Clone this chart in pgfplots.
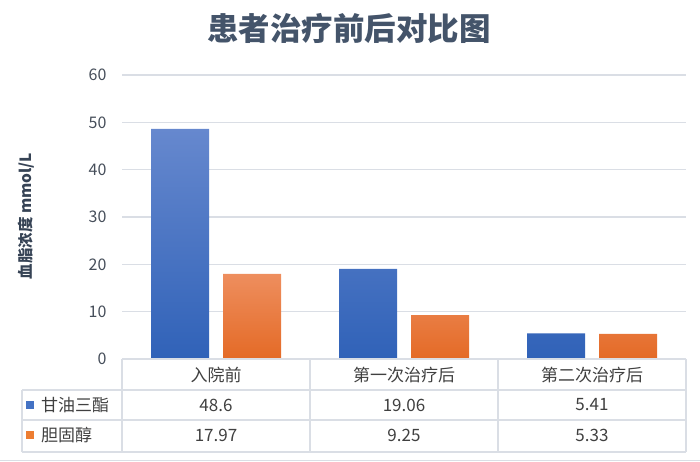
\documentclass[border=0pt]{standalone}
\usepackage{fontspec}
\setmainfont{Noto Sans CJK SC}
\usepackage{pgfplots}
\pgfplotsset{compat=1.18}

\definecolor{blueTop}{RGB}{102,136,206}
\definecolor{blueBot}{RGB}{48,98,184}
\definecolor{orangeTop}{RGB}{238,142,94}
\definecolor{orangeBot}{RGB}{228,106,38}
\definecolor{blueKey}{RGB}{68,114,196}
\definecolor{orangeKey}{RGB}{237,125,49}
\definecolor{gridc}{RGB}{218,222,229}
\definecolor{titlec}{RGB}{68,84,106}
\definecolor{tickc}{RGB}{70,78,90}
\definecolor{textc}{RGB}{64,64,64}

\begin{document}
\begin{tikzpicture}[x=1pt,y=1pt]
\begin{axis}[
    at={(122pt,103pt)}, anchor=south west,
    scale only axis,
    width=564pt, height=284pt,
    xmin=-0.5, xmax=2.5,
    ymin=0, ymax=60,
    ytick={0,10,...,60},
    xtick=\empty,
    axis line style={draw=none},
    ymajorgrids,
    grid style={draw=gridc, line width=1.3pt},
    major tick length=0pt,
    yticklabel style={font=\fontsize{16}{16}\selectfont, text=tickc, xshift=-12pt},
    /pgf/number format/assume math mode=true,
    ybar=14pt, bar width=58pt,
    clip=false
]
% 甘油三酯
\addplot[ybar, draw=none, top color=blueTop, bottom color=blueBot]
    coordinates {(0,48.6) (1,19.06) (2,5.41)};
% 胆固醇
\addplot[ybar, draw=none, top color=orangeTop, bottom color=orangeBot]
    coordinates {(0,17.97) (1,9.25) (2,5.33)};
\end{axis}

% title and y label
\node[font=\fontsize{31.5}{32}\selectfont\bfseries, text=titlec] at (349,434) {患者治疗前后对比图};
\node[rotate=90, font=\fontsize{15.5}{16}\selectfont\bfseries, text=titlec!80!black] at (26,246) {血脂浓度 mmol/L};

% data table
\begin{scope}[draw=gridc, line width=1.3pt]
  \draw (122,103) -- (686,103);
  \draw (22,72) -- (686,72);
  \draw (22,42) -- (686,42);
  \draw (22,10) -- (686,10);
  \draw (22,72) -- (22,10);
  \foreach \x in {122,310,498,686} \draw (\x,103) -- (\x,10);
\end{scope}
\draw[gridc, line width=1pt] (0,1.5) -- (700,1.5);

\begin{scope}[font=\fontsize{17}{17}\selectfont, text=textc]
  \node at (216,87) {入院前};
  \node at (404,87) {第一次治疗后};
  \node at (592,87) {第二次治疗后};
  \fill[blueKey] (26,53) rectangle (34,61);
  \node[anchor=west, inner xsep=0pt] at (41,57) {甘油三酯};
  \fill[orangeKey] (26,23) rectangle (34,31);
  \node[anchor=west, inner xsep=0pt] at (41,27) {胆固醇};
  \node at (216,57) {48.6};
  \node at (404,57) {19.06};
  \node at (592,57) {5.41};
  \node at (216,27) {17.97};
  \node at (404,27) {9.25};
  \node at (592,27) {5.33};
\end{scope}

\pgfresetboundingbox
\path[use as bounding box] (0,0) rectangle (700,462);
\end{tikzpicture}
\end{document}
